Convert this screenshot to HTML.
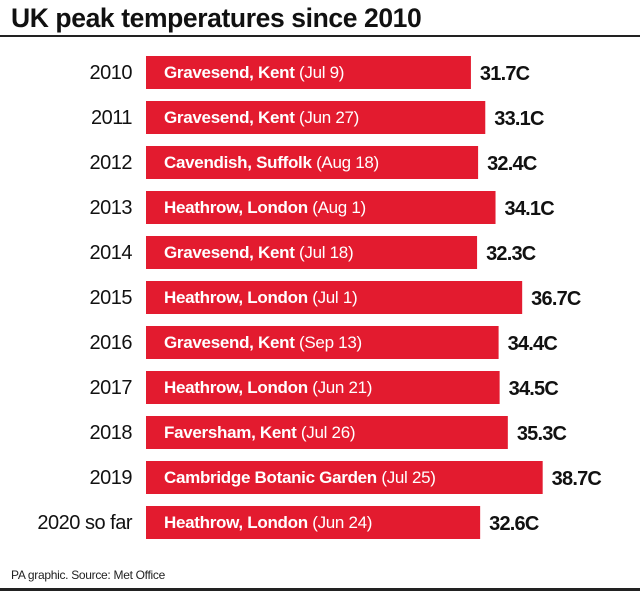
<!DOCTYPE html>
<html><head><meta charset="utf-8"><style>
body{margin:0;background:#fff;width:640px;height:595px;overflow:hidden;font-family:"Liberation Sans",sans-serif}
#title{position:absolute;left:11px;top:3px;font-size:26.5px;font-weight:bold;color:#111;letter-spacing:-0.4px}
#rule{position:absolute;left:0;top:35px;width:640px;height:2px;background:#222}
#foot{position:absolute;left:11px;top:568px;font-size:12px;color:#222;letter-spacing:-0.3px}
#brule{position:absolute;left:0;top:588px;width:640px;height:3px;background:#222}
</style></head><body>
<div id="title">UK peak temperatures since 2010</div>
<div id="rule"></div>
<svg id="chart" width="640" height="595" style="position:absolute;left:0;top:0"></svg>
<div id="foot">PA graphic. Source: Met Office</div>
<div id="brule"></div>
<script>
const years=["2010","2011","2012","2013","2014","2015","2016","2017","2018","2019","2020 so far"];
const places=["Gravesend, Kent","Gravesend, Kent","Cavendish, Suffolk","Heathrow, London","Gravesend, Kent","Heathrow, London","Gravesend, Kent","Heathrow, London","Faversham, Kent","Cambridge Botanic Garden","Heathrow, London"];
const dates=["(Jul 9)","(Jun 27)","(Aug 18)","(Aug 1)","(Jul 18)","(Jul 1)","(Sep 13)","(Jun 21)","(Jul 26)","(Jul 25)","(Jun 24)"];
const temps=[31.7,33.1,32.4,34.1,32.3,36.7,34.4,34.5,35.3,38.7,32.6];
const NS="http://www.w3.org/2000/svg";
const svg=document.getElementById('chart');
const x0=146,k=10.25;
function xs(v){return x0+v*k;}
function ys(i){return 56+i*45;}
function mk(t,a,txt){const e=document.createElementNS(NS,t);for(const n in a)e.setAttribute(n,a[n]);if(txt!=null)e.textContent=txt;svg.appendChild(e);return e;}
temps.forEach((v,i)=>{
 const y=ys(i);
 const r=mk('rect',{x:x0,y:y,width:xs(v)-x0,height:33,fill:'#e31b2f'});
 
 
 const yl=mk('text',{x:132,y:y+23,'text-anchor':'end','font-size':20,fill:'#111','letter-spacing':'-0.5'},years[i]);
 
 
 const t=mk('text',{x:164,y:y+22,'font-size':17,fill:'#fff','letter-spacing':'-0.3'});
 
 
 const b=document.createElementNS(NS,'tspan');b.setAttribute('font-weight','bold');b.textContent=places[i];t.appendChild(b);
 const d=document.createElementNS(NS,'tspan');d.textContent=' '+dates[i];t.appendChild(d);
 const vl=mk('text',{x:xs(v)+9,y:y+24,'font-size':20,'font-weight':'bold',fill:'#111','letter-spacing':'-0.8'},v.toFixed(1)+'C');
 
 
});
</script>
</body></html>
